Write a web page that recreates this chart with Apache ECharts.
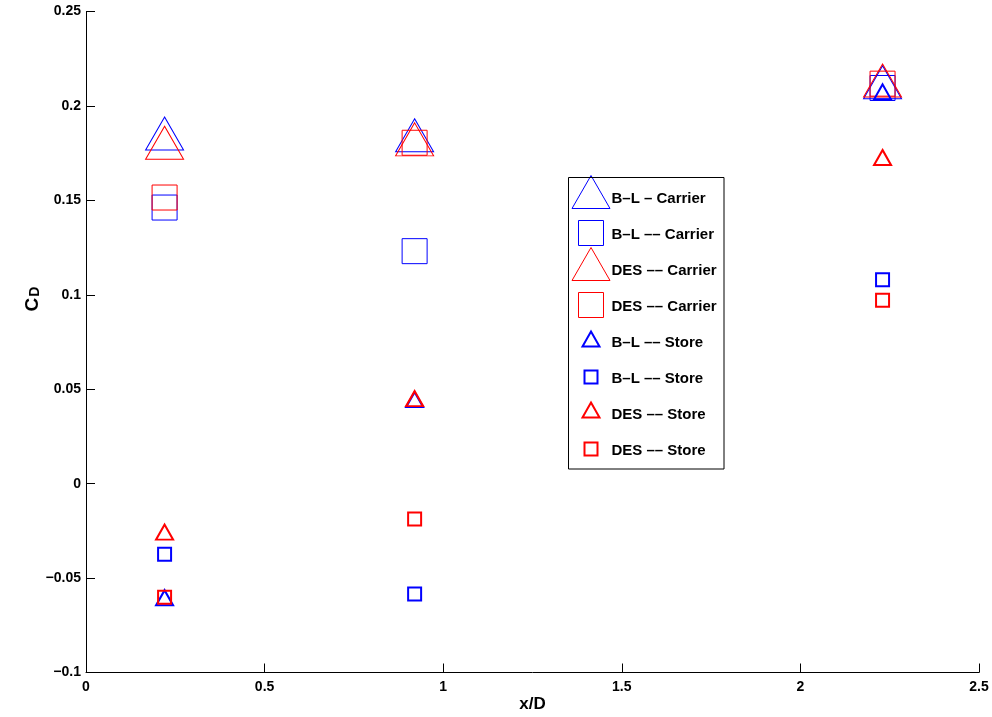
<!DOCTYPE html>
<html>
<head>
<meta charset="utf-8">
<script src="https://cdn.jsdelivr.net/npm/echarts@6/dist/echarts.min.js"></script>
<style>html,body{margin:0;padding:0;background:#fff}#c{width:992px;height:717px}</style>
</head>
<body>
<div id="c"></div>
<script>
// ---- data ----
const xPositions = [0.22, 0.92, 2.23];
const blCarrierTri = [0.1854, 0.1845, 0.2125];
const blCarrierSq = [0.1462, 0.1231, 0.2095];
const desCarrierTri = [0.1805, 0.1823, 0.2135];
const desCarrierSq = [0.1515, 0.1805, 0.2118];
const blStoreTri = [-0.0604, 0.0445, 0.2074];
const blStoreSq = [-0.0374, -0.0585, 0.1080];
const desStoreTri = [-0.0257, 0.0450, 0.1727];
const desStoreSq = [-0.0602, -0.0187, 0.0971];
const legendLabels = ['B\u2013L \u2013 Carrier', 'B\u2013L \u2013\u2013 Carrier', 'DES \u2013\u2013 Carrier', 'DES \u2013\u2013 Carrier',
  'B\u2013L \u2013\u2013 Store', 'B\u2013L \u2013\u2013 Store', 'DES \u2013\u2013 Store', 'DES \u2013\u2013 Store'];
const seriesIds = ['blCarrierTri', 'blCarrierSq', 'desCarrierTri', 'desCarrierSq', 'blStoreTri', 'blStoreSq', 'desStoreTri', 'desStoreSq'];
const seriesValues = [blCarrierTri, blCarrierSq, desCarrierTri, desCarrierSq, blStoreTri, blStoreSq, desStoreTri, desStoreSq];

// ---- styles ----
const BLUE = '#0000ff', RED = '#ff0000';
const FONT = '"Liberation Sans", Arial, Helvetica, sans-serif';
const styles = [
  {symbol: 'triangle', size: [38, 33], color: BLUE, lw: 1, cy: 192, ty: 198},
  {symbol: 'rect', size: [25, 25], color: BLUE, lw: 1, cy: 233, ty: 233.5},
  {symbol: 'triangle', size: [38, 33], color: RED, lw: 1, cy: 264, ty: 269.5},
  {symbol: 'rect', size: [25, 25], color: RED, lw: 1, cy: 305, ty: 305.5},
  {symbol: 'triangle', size: [17, 15], color: BLUE, lw: 2, cy: 339, ty: 341.5},
  {symbol: 'rect', size: [13, 13], color: BLUE, lw: 2, cy: 377, ty: 377.5},
  {symbol: 'triangle', size: [17, 15], color: RED, lw: 2, cy: 410, ty: 413.5},
  {symbol: 'rect', size: [13, 13], color: RED, lw: 2, cy: 449, ty: 449.5}
];

const series = seriesIds.map((id, i) => ({
  name: id,
  type: 'scatter',
  symbol: styles[i].symbol,
  symbolSize: styles[i].size,
  data: xPositions.map((x, j) => [x, seriesValues[i][j]]),
  itemStyle: {color: 'rgba(0,0,0,0)', borderColor: styles[i].color, borderWidth: styles[i].lw, opacity: 1},
  emphasis: {disabled: true},
  z: 2 + i
}));

const ICON_CX = 591, TEXT_X = 611.5;
const legends = seriesIds.map((id, i) => {
  const w = styles[i].size[0], h = styles[i].size[1];
  const padL = TEXT_X - (ICON_CX + w / 2 + 5);
  const t = styles[i].ty - styles[i].cy + 1;
  return {
    data: [id],
    formatter: '{a|' + legendLabels[i] + '}',
    selectedMode: false,
    orient: 'vertical',
    left: ICON_CX - w / 2 - styles[i].lw / 2,
    top: styles[i].cy - h / 2 - styles[i].lw / 2,
    padding: 0,
    itemWidth: w,
    itemHeight: h,
    itemGap: 0,
    itemStyle: {borderWidth: styles[i].lw, color: 'rgba(0,0,0,0)', borderColor: styles[i].color},
    textStyle: {
      fontFamily: FONT, fontWeight: 'bold', fontSize: 15, color: '#000',
      rich: {a: {fontFamily: FONT, fontWeight: 'bold', fontSize: 15, color: '#000', padding: [t, 0, -t, padL]}}
    }
  };
});

const chart = echarts.init(document.getElementById('c'), null, {renderer: 'canvas'});
chart.setOption({
  animation: false,
  backgroundColor: '#fff',
  grid: {left: 86, right: 13, top: 11.5, bottom: 44.5, containLabel: false, outerBoundsMode: 'none'},
  xAxis: {
    type: 'value', min: 0, max: 2.5, interval: 0.5,
    name: 'x/D', nameLocation: 'middle', nameGap: 23, nameMoveOverlap: false,
    nameTextStyle: {fontFamily: FONT, fontWeight: 'bold', fontSize: 17, color: '#000'},
    axisLine: {show: true, onZero: false, lineStyle: {color: '#000', width: 1}},
    axisTick: {show: true, inside: true, length: 9, lineStyle: {color: '#000'}},
    axisLabel: {margin: 8, fontFamily: FONT, fontWeight: 'bold', fontSize: 14, color: '#000'},
    splitLine: {show: false}
  },
  yAxis: {
    type: 'value', min: -0.1, max: 0.25, interval: 0.05,
    name: '{c|C}{d|D}', nameLocation: 'middle', nameGap: 44, nameRotate: 90, nameMoveOverlap: false,
    nameTextStyle: {
      fontFamily: FONT, fontWeight: 'bold', color: '#000', padding: [0, 0, 0, 86],
      rich: {
        c: {fontFamily: FONT, fontWeight: 'bold', fontSize: 19, color: '#000', verticalAlign: 'bottom', lineHeight: 26},
        d: {fontFamily: FONT, fontWeight: 'bold', fontSize: 14, color: '#000', verticalAlign: 'bottom', lineHeight: 10, padding: [0, 0, 0, 1]}
      }
    },
    axisLine: {show: true, onZero: false, lineStyle: {color: '#000', width: 1}},
    axisTick: {show: true, inside: true, length: 9, lineStyle: {color: '#000'}},
    axisLabel: {
      margin: 5, fontFamily: FONT, fontWeight: 'bold', fontSize: 14, color: '#000',
      formatter: v => String(v).replace('-', '\u2212')
    },
    splitLine: {show: false}
  },
  legend: legends,
  graphic: [{
    type: 'rect', z: 100,
    shape: {x: 568.5, y: 177.5, width: 155.5, height: 291.5},
    style: {fill: 'none', stroke: '#000', lineWidth: 1}
  }],
  series: series
});
</script>
</body>
</html>
